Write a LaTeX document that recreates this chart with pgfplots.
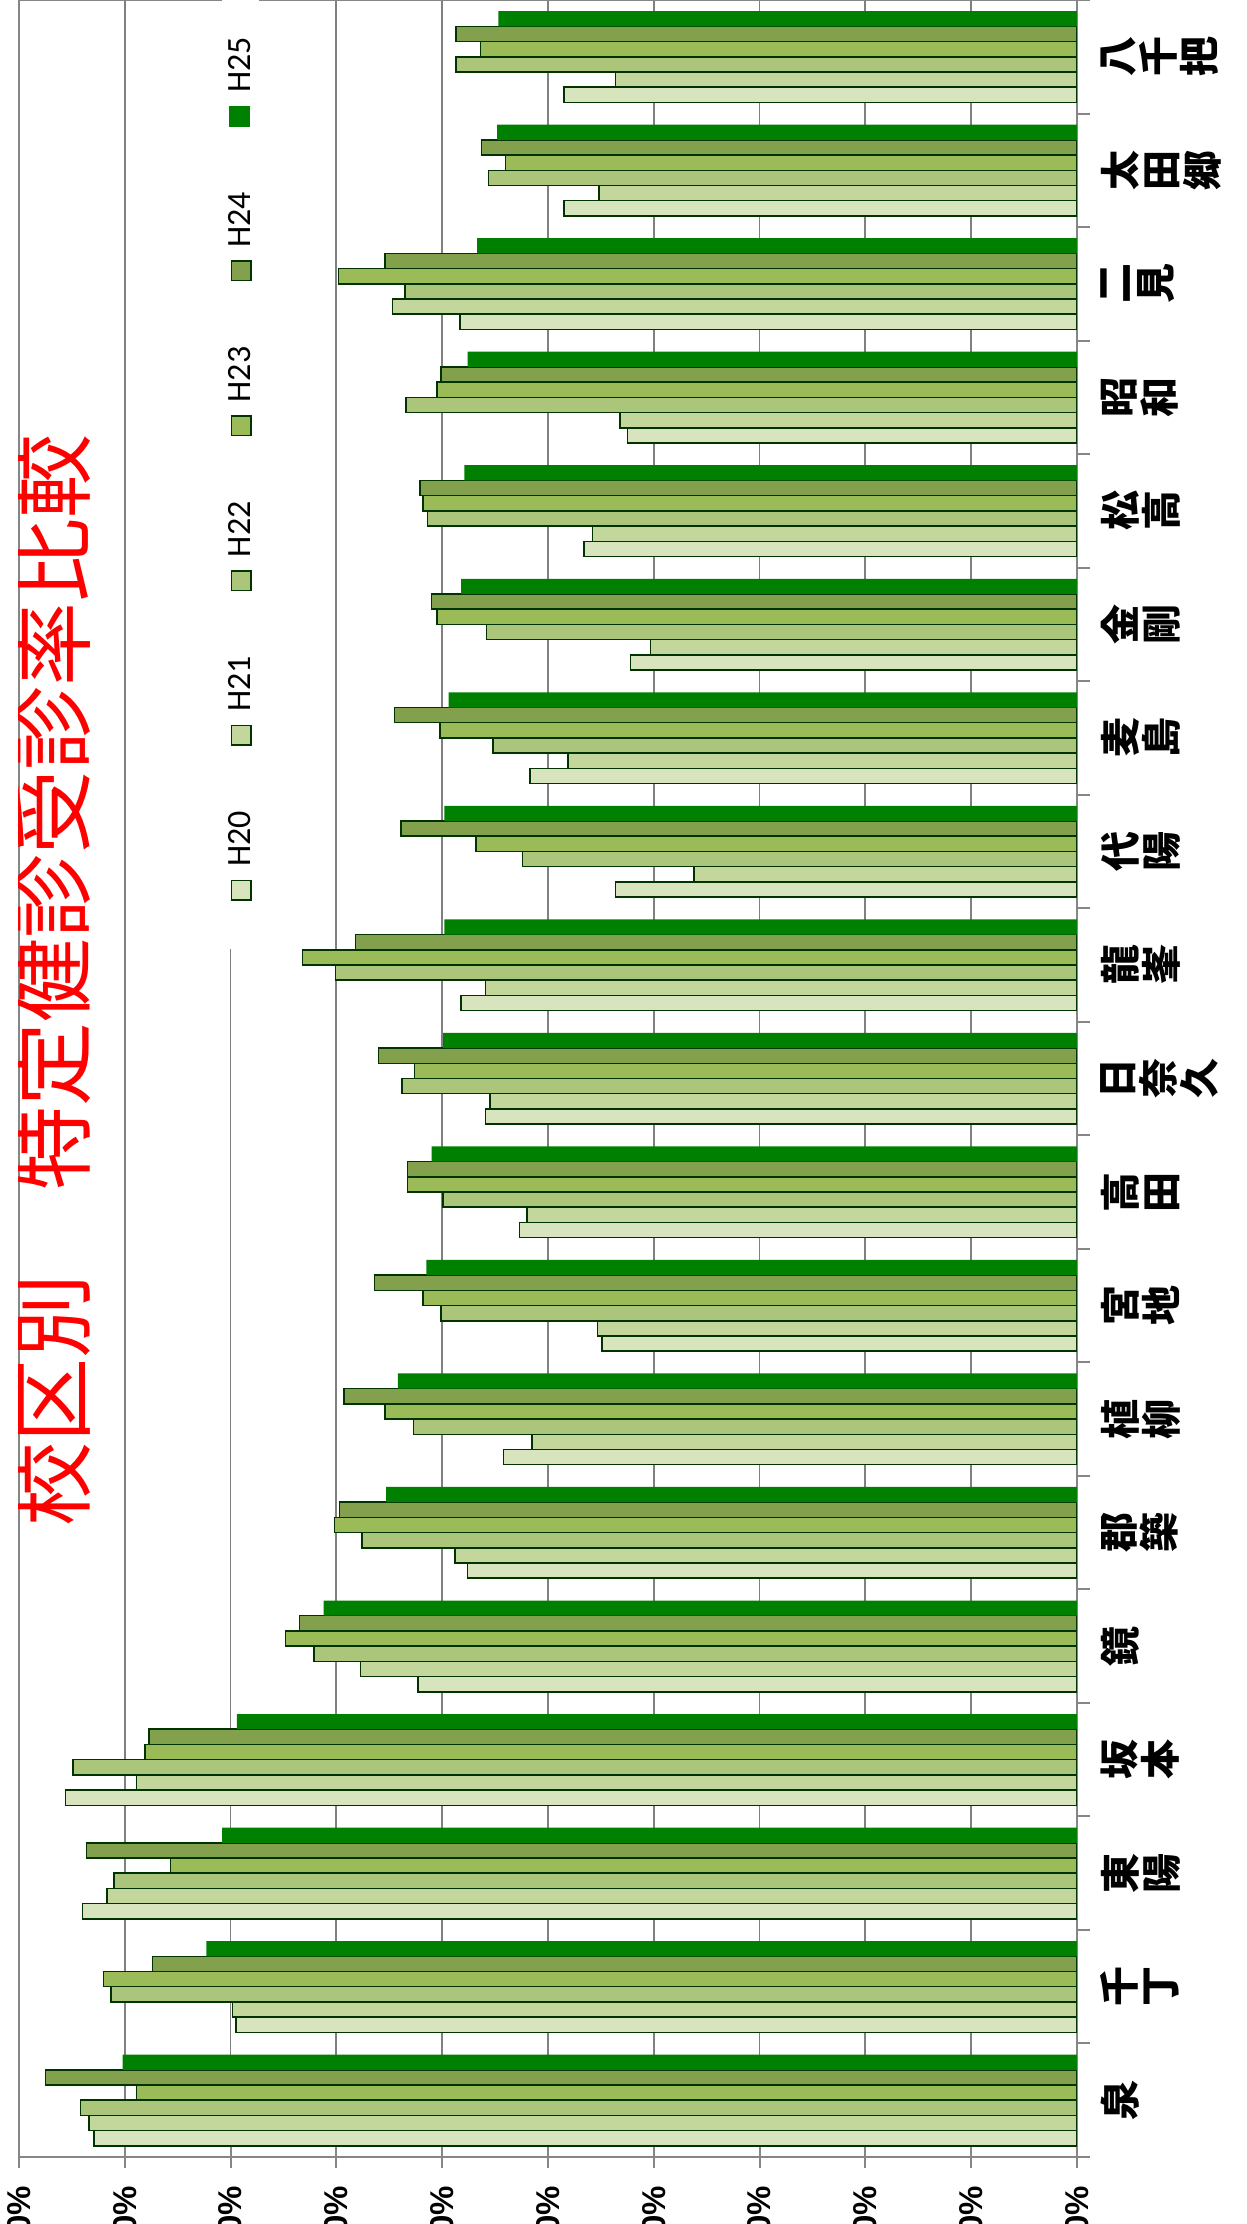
\documentclass[border=0pt]{standalone}
\usepackage{fontspec}
\usepackage{pgfplots}
\usepackage{pgfplotstable}
\pgfplotsset{compat=1.18}
\newfontfamily\jp{Noto Sans CJK JP}
\newfontfamily\legfont{Carlito}
\newfontfamily\tickfont{Liberation Sans}

\definecolor{c20}{HTML}{D7E4BD}
\definecolor{c21}{HTML}{C3D69B}
\definecolor{c22}{HTML}{ABC57A}
\definecolor{c23}{HTML}{9BBB59}
\definecolor{c24}{HTML}{83A04C}
\definecolor{c25}{HTML}{008000}
\definecolor{edge}{HTML}{003300}
\definecolor{axisgray}{HTML}{868686}

\newcommand{\key}[1]{{\setlength{\fboxsep}{0pt}\setlength{\fboxrule}{0.75pt}%
  \fcolorbox{edge}{#1}{\rule{0pt}{9pt}\rule{9pt}{0pt}}}\hspace{6.5pt}}
\newcommand{\keyplain}[1]{{\setlength{\fboxsep}{0pt}%
  \colorbox{#1}{\rule{0pt}{10.5pt}\rule{10.5pt}{0pt}}}\hspace{6.5pt}}

% idx 0 = bottom category
\pgfplotstableread{
idx H20  H21  H22  H23  H24  H25
0   92.9 93.4 94.2 88.9 97.5 90.2
1   79.5 79.8 91.3 92.0 87.4 82.3
2   94.0 91.7 91.0 85.7 93.6 80.8
3   95.6 88.9 94.9 88.1 87.7 79.4
4   62.3 67.7 72.1 74.8 73.5 71.2
5   57.6 58.8 67.6 70.2 69.7 65.3
6   54.2 51.5 62.7 65.4 69.3 64.2
7   44.9 45.3 60.1 61.8 66.4 61.5
8   52.7 52.0 59.9 63.3 63.3 61.0
9   55.9 55.5 63.8 62.6 66.0 59.9
10  58.2 55.9 70.1 73.2 68.2 59.8
11  43.6 36.2 52.4 56.8 63.9 59.8
12  51.7 48.1 55.2 60.2 64.5 59.4
13  42.2 40.3 55.8 60.5 61.0 58.2
14  46.6 45.8 61.4 61.8 62.1 57.9
15  42.5 43.2 63.4 60.5 60.1 57.6
16  58.3 64.7 63.5 69.8 65.4 56.7
17  48.5 45.2 55.6 54.0 56.3 54.8
18  48.5 43.6 58.7 56.4 58.7 54.7
}\rates

\begin{document}
\begin{tikzpicture}
\begin{axis}[
  at={(9.5pt,33.5pt)}, anchor=south west,
  scale only axis, width=529pt, height=1078.5pt,
  xmin=0, xmax=100, x dir=reverse,
  ymin=-0.5, ymax=18.5,
  xbar=0pt, bar width=7.604pt,
  axis line style={axisgray, line width=1pt},
  xmajorgrids, grid style={color=black!50, line width=0.9pt},
  xtick={0,10,...,100},
  xticklabels={0\%,10\%,20\%,30\%,40\%,50\%,60\%,70\%,80\%,90\%,100\%},
  xtick pos=left, xtick align=center,
  xtick style={axisgray, line width=1pt, /pgfplots/major tick length=11pt},
  xticklabel shift=12pt,
  xticklabel style={rotate=90, anchor=east, inner sep=0pt,
    font=\tickfont\bfseries\fontsize{16.5}{16.5}\selectfont},
  ytick={-0.5,0.5,...,18.5}, yticklabels={},
  ytick pos=right, yticklabel pos=right, ytick align=outside,
  ytick style={axisgray, line width=1pt, /pgfplots/major tick length=6.5pt},
  yticklabel shift=7.5pt,
  yticklabel style={rotate=90, anchor=north, align=center, inner sep=0pt,
    font=\jp\bfseries\fontsize{20}{20.5}\selectfont},
  extra y ticks={0,1,...,18},
  extra y tick labels={{泉},{千\\丁},{東\\陽},{坂\\本},{鏡},{郡\\築},{植\\柳},{宮\\地},{高\\田},{日\\奈\\久},{龍\\峯},{代\\陽},{麦\\島},{金\\剛},{松\\高},{昭\\和},{二\\見},{太\\田\\郷},{八\\千\\把}},
  extra y tick style={ytick style={draw=none}},
  legend columns=1, reverse legend,
  legend image code/.code={},
  legend style={at={(axis cs:79.06,14.37)}, anchor=center,
    draw=none, fill=white, inner xsep=3pt, inner ysep=24pt,
    row sep=32.6pt, nodes={rotate=90, inner sep=0pt},
    font=\legfont\fontsize{17}{17}\selectfont},
]
\addplot[fill=c20, draw=edge, line width=0.75pt] table[x=H20, y=idx]{\rates};
\addplot[fill=c21, draw=edge, line width=0.75pt] table[x=H21, y=idx]{\rates};
\addplot[fill=c22, draw=edge, line width=0.75pt] table[x=H22, y=idx]{\rates};
\addplot[fill=c23, draw=edge, line width=0.75pt] table[x=H23, y=idx]{\rates};
\addplot[fill=c24, draw=edge, line width=0.75pt] table[x=H24, y=idx]{\rates};
\addplot[fill=c25, draw=none] table[x=H25, y=idx]{\rates};
\legend{\key{c20}H20,\key{c21}H21,\key{c22}H22,\key{c23}H23,\key{c24}H24,\keyplain{c25}H25}
\node[rotate=90, text=red, inner sep=0pt, font=\jp\fontsize{42}{42}\selectfont]
  at (axis cs:96.9,9.86) {校区別　特定健診受診率比較};
\end{axis}
\pgfresetboundingbox
\path[use as bounding box] (0,0) rectangle (623.5pt,1112pt);
\end{tikzpicture}
\end{document}
